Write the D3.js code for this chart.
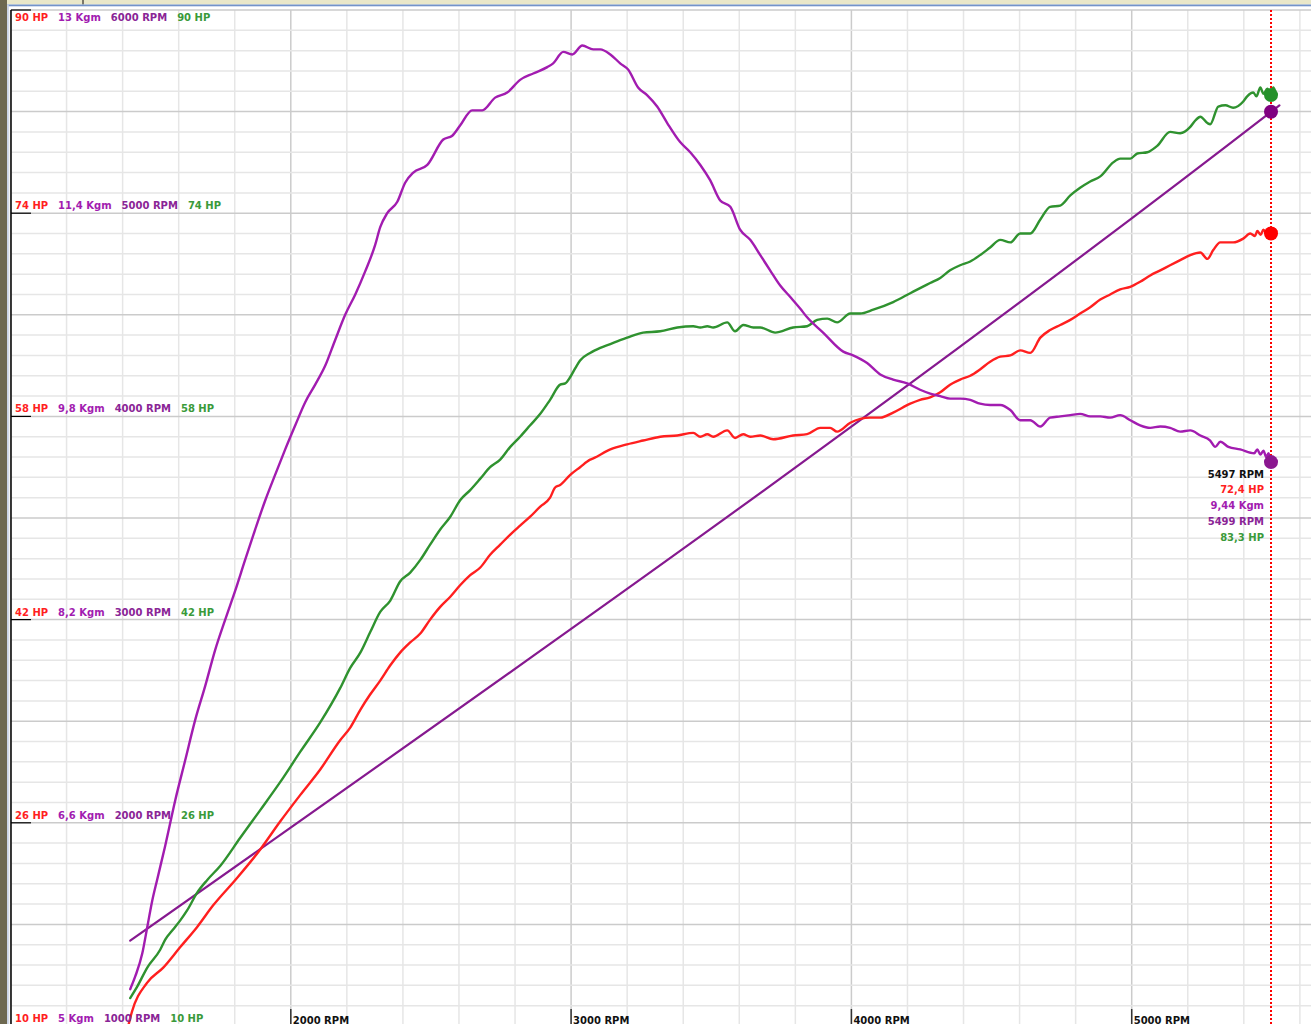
<!DOCTYPE html>
<html>
<head>
<meta charset="utf-8">
<script src="https://cdn.jsdelivr.net/npm/d3@7"></script>
<style>
  html, body { margin: 0; padding: 0; background: #fff; overflow: hidden; }
  svg text { font-family: "DejaVu Sans", Verdana, sans-serif; font-weight: bold; font-size: 10px; }
</style>
</head>
<body>
<svg id="chart" width="1311" height="1024"></svg>
<script>
// Wheel power (HP) against engine speed
const wheelRpm = [1420,1433,1487,1545,1605,1666,1723,1802,1891,1962,2034,2105,2176,2212,2248,2283,2319,2355,2390,2426,2462,2497,2533,2569,2604,2640,2676,2711,2747,2783,2818,2854,2890,2925,2943,2961,2997,3032,3068,3079,3140,3200,3257,3318,3379,3436,3461,3486,3507,3557,3585,3614,3639,3675,3721,3792,3842,3889,3924,3949,3996,4067,4103,4149,4210,4245,4281,4317,4352,4388,4424,4459,4495,4531,4567,4602,4638,4674,4709,4745,4781,4816,4852,4888,4923,4959,4995,5030,5066,5102,5137,5173,5209,5245,5270,5291,5316,5341,5362,5398,5423,5440,5448,5460,5470,5482,5497,5506,5516];
const wheelHp = [10.0,11.1,13.4,14.6,16.2,17.8,19.5,21.5,23.9,26.1,28.2,30.2,32.5,33.5,34.9,36.1,37.2,38.4,39.4,40.2,40.9,42.0,43.0,43.8,44.7,45.5,46.1,47.1,47.9,48.7,49.4,50.1,50.9,51.6,52.4,52.6,53.4,54.0,54.6,54.7,55.4,55.8,56.1,56.4,56.5,56.7,56.4,56.6,56.4,56.9,56.3,56.6,56.4,56.5,56.2,56.5,56.6,57.1,57.1,56.8,57.5,57.9,57.9,58.3,59.0,59.3,59.5,59.9,60.5,60.9,61.2,61.7,62.3,62.7,62.8,63.2,63.0,64.2,64.8,65.2,65.6,66.1,66.6,67.2,67.6,68.0,68.2,68.6,69.1,69.5,69.9,70.3,70.7,70.9,70.4,71.1,71.7,71.7,71.7,72.0,72.4,72.2,72.6,72.3,72.7,72.3,72.4,72.8,72.6];

// Engine power (HP) against engine speed
const engineRpm = [1427,1452,1488,1534,1552,1580,1605,1630,1666,1702,1748,1819,1891,1962,2034,2105,2176,2212,2248,2283,2319,2355,2390,2426,2462,2497,2533,2569,2604,2640,2676,2711,2747,2783,2818,2854,2890,2925,2961,2979,2997,3015,3032,3068,3104,3140,3175,3200,3257,3318,3379,3436,3461,3486,3507,3557,3585,3614,3650,3675,3728,3792,3842,3878,3914,3949,3996,4031,4078,4149,4210,4245,4281,4317,4352,4388,4424,4459,4495,4531,4567,4602,4638,4674,4709,4745,4781,4816,4852,4888,4934,4959,4995,5020,5056,5091,5137,5173,5209,5227,5245,5270,5280,5309,5334,5362,5398,5412,5434,5445,5459,5470,5484,5497,5505,5512];
const engineHp = [12.2,13.1,14.6,16.0,16.8,17.6,18.3,19.1,20.5,21.5,22.6,24.8,27.0,29.2,31.6,33.9,36.6,38.2,39.4,41.0,42.6,43.5,45.0,45.7,46.7,47.9,49.1,50.1,51.4,52.2,53.1,54.0,54.6,55.6,56.4,57.3,58.2,59.3,60.5,60.6,61.1,61.8,62.4,63.0,63.4,63.7,64.0,64.2,64.6,64.7,65.0,65.1,65.0,65.1,65.0,65.4,64.7,65.2,65.0,65.0,64.6,65.0,65.1,65.6,65.7,65.4,66.1,66.1,66.4,67.0,67.7,68.1,68.5,68.9,69.5,69.9,70.2,70.7,71.3,71.9,71.7,72.4,72.4,73.5,74.5,74.6,75.4,76.0,76.5,76.9,78.0,78.3,78.3,78.7,78.8,79.3,80.4,80.3,80.8,81.3,81.6,81.1,81.0,82.4,82.5,82.3,82.8,83.2,83.5,83.2,83.9,83.4,83.8,83.3,83.9,83.6];

// Torque (Kgm) against engine speed
const torqueRpm = [1427,1445,1470,1488,1506,1523,1552,1588,1623,1659,1695,1730,1766,1802,1837,1873,1909,1944,1980,2016,2051,2087,2123,2158,2194,2230,2265,2301,2319,2344,2380,2408,2437,2487,2544,2576,2604,2647,2683,2729,2772,2818,2865,2915,2936,2972,3004,3040,3079,3104,3140,3175,3204,3239,3271,3307,3343,3389,3425,3461,3496,3532,3568,3603,3639,3675,3710,3746,3782,3817,3842,3899,3971,4006,4056,4103,4149,4199,4245,4281,4317,4352,4388,4424,4459,4495,4531,4567,4602,4638,4674,4709,4745,4781,4816,4852,4888,4923,4959,4995,5030,5066,5102,5137,5173,5209,5245,5280,5298,5316,5345,5387,5437,5448,5459,5470,5480,5488,5497];
const torqueKgm = [5.29,5.39,5.57,5.78,5.99,6.15,6.42,6.78,7.09,7.41,7.68,7.96,8.20,8.43,8.67,8.91,9.14,9.34,9.54,9.73,9.91,10.05,10.20,10.40,10.60,10.76,10.94,11.15,11.29,11.40,11.49,11.64,11.72,11.78,11.98,12.01,12.09,12.21,12.21,12.31,12.35,12.45,12.50,12.55,12.58,12.67,12.65,12.72,12.69,12.69,12.65,12.58,12.53,12.39,12.33,12.24,12.11,11.96,11.88,11.78,11.66,11.50,11.45,11.27,11.19,11.07,10.95,10.83,10.74,10.65,10.58,10.46,10.31,10.28,10.22,10.13,10.09,10.06,10.01,9.98,9.96,9.94,9.94,9.93,9.90,9.89,9.89,9.85,9.77,9.77,9.72,9.79,9.80,9.81,9.82,9.80,9.80,9.79,9.81,9.77,9.73,9.71,9.72,9.71,9.68,9.69,9.65,9.61,9.56,9.60,9.56,9.54,9.51,9.54,9.50,9.53,9.48,9.51,9.44];

// Measured RPM channel against engine speed
const traceRpm = [1427, 5497, 5527];
const traceValue = [1420, 5499, 5531];

// Axis labels
const hpTicks = [90, 74, 58, 42, 26, 10];
const kgmTicks = [13, 11.4, 9.8, 8.2, 6.6, 5];
const rpmScaleTicks = [6000, 5000, 4000, 3000, 2000, 1000];
const xTicks = [2000, 3000, 4000, 5000];

// Cursor readout
const cursorRpm = 5497;
const cursorWheelHp = 72.4;
const cursorTorque = 9.44;
const cursorTrace = 5499;
const cursorEngineHp = 83.3;

const C = {
  red: "#ff1f1f",
  green: "#2f922f",
  greenText: "#3a9a3a",
  magenta: "#a21cb0",
  purple: "#86198f",
  purpleText: "#8a2596",
  gridLight: "#e6e6e6",
  gridDark: "#cbcbcb"
};

const svg = d3.select("#chart");
const W = 1311, H = 1024;
const plotLeft = 10.5, plotTop = 10, plotBottom = 1026;

const x = d3.scaleLinear().domain([1000, 5000]).range([plotLeft, plotLeft + 4000 * 0.2803]);
const yHp = d3.scaleLinear().domain([10, 90]).range([plotBottom, plotTop]);
const yKgm = d3.scaleLinear().domain([5, 13]).range([plotBottom, plotTop]);
const yRpm = d3.scaleLinear().domain([1000, 6000]).range([plotBottom, plotTop]);

const comma = v => String(v).replace(".", ",");

svg.append("rect").attr("width", W).attr("height", H).attr("fill", "#fff");

// Grid
const grid = svg.append("g");
const xMax = x.invert(W);
const vLines = d3.range(1000, xMax, 200);
grid.selectAll("line.v").data(vLines).join("line")
  .attr("x1", d => x(d)).attr("x2", d => x(d))
  .attr("y1", plotTop).attr("y2", H)
  .attr("stroke", d => d % 1000 === 0 ? C.gridDark : C.gridLight)
  .attr("stroke-width", 1.5);
const hLines = d3.range(0, 51).map(i => 10 + i * 1.6);
grid.selectAll("line.h").data(hLines).join("line")
  .attr("x1", plotLeft).attr("x2", W)
  .attr("y1", d => yHp(d)).attr("y2", d => yHp(d))
  .attr("stroke", (d, i) => i % 5 === 0 ? C.gridDark : C.gridLight)
  .attr("stroke-width", 1.5);

// Window frame around the plot
svg.append("rect").attr("x", 0).attr("y", 0).attr("width", W).attr("height", 4.5).attr("fill", "#e9e7c9");
svg.append("line").attr("x1", 83).attr("x2", 83).attr("y1", 0).attr("y2", 4.5).attr("stroke", "#55524a").attr("stroke-width", 1.5);
svg.append("rect").attr("x", 0).attr("y", 4.5).attr("width", W).attr("height", 1.8).attr("fill", "#7393c9");
svg.append("rect").attr("x", 0).attr("y", 0).attr("width", 7).attr("height", H).attr("fill", "#6d6850");
svg.append("rect").attr("x", 7).attr("y", 4.5).attr("width", 1.8).attr("height", H).attr("fill", "#c9d2e4");

// Left axis line and ticks
svg.append("line").attr("x1", 11).attr("x2", 11).attr("y1", plotTop).attr("y2", H)
  .attr("stroke", "#000").attr("stroke-width", 1.5);
svg.selectAll("line.ytick").data(hpTicks).join("line")
  .attr("x1", 11).attr("x2", 31)
  .attr("y1", d => yHp(d)).attr("y2", d => yHp(d))
  .attr("stroke", "#000").attr("stroke-width", 1.2);

// Bottom RPM ticks and labels
svg.selectAll("line.xtick").data(xTicks).join("line")
  .attr("x1", d => x(d)).attr("x2", d => x(d))
  .attr("y1", 1009).attr("y2", H)
  .attr("stroke", "#333").attr("stroke-width", 1.5);
svg.selectAll("text.xlab").data(xTicks).join("text")
  .attr("x", d => x(d) + 2).attr("y", 1023.5)
  .attr("fill", "#111")
  .text(d => d + " RPM");

// Curves
const line = d3.line().curve(d3.curveMonotoneX);
function series(xs, ys, toY) {
  const n = Math.min(xs.length, ys.length);
  return d3.range(n).map(i => [x(xs[i]), toY(ys[i])]);
}
const curves = svg.append("g").attr("fill", "none").attr("stroke-linejoin", "round").attr("stroke-linecap", "round");
curves.append("path").attr("d", line(series(traceRpm, traceValue, yRpm)))
  .attr("stroke", C.purple).attr("stroke-width", 2.2);
curves.append("path").attr("d", line(series(wheelRpm, wheelHp, yHp)))
  .attr("stroke", C.red).attr("stroke-width", 2.4);
curves.append("path").attr("d", line(series(engineRpm, engineHp, yHp)))
  .attr("stroke", C.green).attr("stroke-width", 2.4);
curves.append("path").attr("d", line(series(torqueRpm, torqueKgm, yKgm)))
  .attr("stroke", C.magenta).attr("stroke-width", 2.4);

// Cursor
const cx = x(cursorRpm);
svg.append("line").attr("x1", cx).attr("x2", cx).attr("y1", plotTop).attr("y2", H)
  .attr("stroke", "#ff0000").attr("stroke-width", 2).attr("stroke-dasharray", "2,2");
const dots = [
  [yHp(cursorEngineHp), "#24902a"],
  [yRpm(cursorTrace), "#800080"],
  [yHp(cursorWheelHp), "#ff0000"],
  [yKgm(cursorTorque), "#8b1790"]
];
svg.selectAll("circle.cur").data(dots).join("circle")
  .attr("cx", cx).attr("cy", d => d[0]).attr("r", 7).attr("fill", d => d[1]);

// Cursor readout
const readout = [
  [cursorRpm + " RPM", "#111"],
  [comma(cursorWheelHp) + " HP", C.red],
  [comma(cursorTorque) + " Kgm", C.magenta],
  [cursorTrace + " RPM", C.purpleText],
  [comma(cursorEngineHp) + " HP", C.greenText]
];
svg.selectAll("text.readout").data(readout).join("text")
  .attr("x", cx - 7).attr("y", (d, i) => 477.5 + i * 15.8)
  .attr("text-anchor", "end")
  .attr("fill", d => d[1])
  .text(d => d[0]);

// Left scale labels: HP, Kgm, RPM, HP in one row per tick
hpTicks.forEach((hp, i) => {
  const ty = yHp(hp);
  const baseline = i === 0 ? ty + 11 : ty - 4;
  const parts = [
    [hp + " HP", C.red],
    [comma(kgmTicks[i]) + " Kgm", C.magenta],
    [rpmScaleTicks[i] + " RPM", C.purpleText],
    [hp + " HP", C.greenText]
  ];
  let px = 15;
  parts.forEach(p => {
    const t = svg.append("text").attr("x", px).attr("y", baseline).attr("fill", p[1]).text(p[0]);
    px += t.node().getComputedTextLength() + 10;
  });
});
</script>
</body>
</html>
